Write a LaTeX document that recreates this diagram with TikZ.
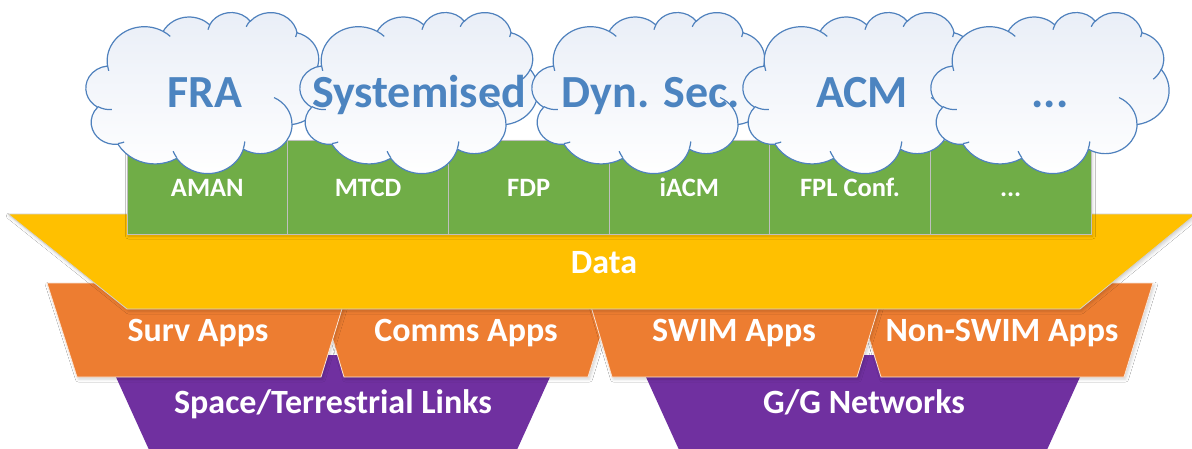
\documentclass[tikz,border=0pt]{standalone}
\usepackage{fontspec}
\setmainfont{Carlito}
\usetikzlibrary{shadows.blur}

\definecolor{cloudblue}{RGB}{79,129,189}
\definecolor{cloudtxt}{RGB}{76,132,192}
\definecolor{cloudtint}{RGB}{233,238,247}
\definecolor{appgreen}{RGB}{112,173,71}
\definecolor{datayellow}{RGB}{255,192,0}
\definecolor{apporange}{RGB}{237,125,49}
\definecolor{netpurple}{RGB}{112,48,160}
\definecolor{edgegray}{RGB}{191,191,191}

% Elliptical arc given as (x radius, y radius, start angle, sweep) with
% angles measured on the ellipse itself, y axis pointing down.
% Radii are in units of 1/432 of the cloud box (\csx, \csy pt per unit).
\newcommand\ccarc[4]{%
  \pgfextra{%
    \pgfmathsetmacro\cTs{atan2((#1)*sin(#3),(#2)*cos(#3))}%
    \pgfmathsetmacro\cTe{atan2((#1)*sin((#3)+(#4)),(#2)*cos((#3)+(#4)))}%
    \pgfmathsetmacro\cTd{\cTe-\cTs}%
    \pgfmathsetmacro\cTd{(#4)>0 ? (\cTd<0 ? \cTd+360 : \cTd) : (\cTd>0 ? \cTd-360 : \cTd)}%
    \pgfmathsetmacro\cRx{(#1)*\csx}%
    \pgfmathsetmacro\cRy{(#2)*\csy}%
    \pgfmathsetmacro\cTs{-1*(\cTs)}%
    \pgfmathsetmacro\cTd{-1*(\cTd)}%
  }%
  arc[start angle=\cTs, delta angle=\cTd, x radius=\cRx pt, y radius=\cRy pt]%
}

% Cloud: name, left edge, top edge, label
\newcommand\officecloud[4]{%
  \pgfmathsetmacro\csx{238/432}%
  \pgfmathsetmacro\csy{161/432}%
  \path[cloudbody] ({#2+39.00*\csx},{#3+143.70*\csy})
    \ccarc{67.53}{91.90}{-190.48748}{123.78053}
    \ccarc{53.33}{72.67}{-144.10238}{89.94523}
    \ccarc{43.65}{59.45}{-145.80792}{99.72302}
    \ccarc{48.57}{65.95}{-130.98607}{117.24173}
    \ccarc{53.33}{72.73}{-78.70888}{109.02692}
    \ccarc{67.75}{92.20}{-46.26725}{130.26900}
    \ccarc{57.85}{78.67}{0.62502}{114.03333}
    \ccarc{67.52}{92.15}{22.45160}{115.17255}
    \ccarc{77.20}{105.43}{66.24263}{75.71102}
    \ccarc{43.60}{59.18}{-274.94208}{146.73557}
    \ccarc{43.45}{59.45}{-246.82850}{152.51885}
    -- cycle;
  \path[cloudline]
    ({#2+46.93*\csx},{#3+261.77*\csy}) \ccarc{43.45}{59.45}{86.74200}{26.42950}
    ({#2+69.28*\csx},{#3+348.99*\csy}) \ccarc{43.60}{59.18}{73.61047}{11.44747}
    ({#2+164.78*\csx},{#3+390.90*\csy}) \ccarc{67.52}{92.15}{137.62415}{14.08110}
    ({#2+288.27*\csx},{#3+347.51*\csy}) \ccarc{67.52}{92.15}{6.45327}{15.99835}
    ({#2+341.29*\csx},{#3+229.54*\csy}) \ccarc{57.85}{78.67}{-70.29235}{70.91737}
    ({#2+417.98*\csx},{#3+153.54*\csy}) \ccarc{53.33}{72.73}{30.31803}{27.75150}
    ({#2+383.24*\csx},{#3+54.26*\csy}) \ccarc{48.57}{65.95}{13.74433}{14.85890}
    ({#2+290.78*\csx},{#3+39.52*\csy}) \ccarc{48.57}{65.95}{-149.18145}{18.19537}
    ({#2+221.41*\csx},{#3+47.20*\csy}) \ccarc{43.65}{59.45}{-163.49427}{17.68635}
    ({#2+140.00*\csx},{#3+51.92*\csy}) \ccarc{67.53}{91.90}{-66.70695}{12.31935}
    ({#2+41.27*\csx},{#3+157.89*\csy}) \ccarc{67.53}{91.90}{157.65435}{11.85817};
  \node[cloudtext] (#1) at ({#2+119},{#3+95}) {#4};
}

\begin{document}
\begin{tikzpicture}[x=1pt, y=-1pt,
  cloudbody/.style={draw=cloudblue, line width=1.2pt, top color=cloudtint, bottom color=white},
  cloudline/.style={draw=cloudblue, line width=1.2pt},
  cloudtext/.style={text=cloudtxt, font=\fontsize{46}{55}\selectfont\bfseries, anchor=base},
  cellbox/.style={fill=appgreen, draw=edgegray, line width=0.8pt, minimum width=160.67pt,
    minimum height=94pt, inner sep=0pt, text=white, text height=18pt, text depth=0pt,
    font=\fontsize{26.5}{31}\selectfont\bfseries},
  layertext/.style={text=white, font=\fontsize{34}{40}\selectfont\bfseries, anchor=base},
  softshadow/.style={blur shadow={shadow xshift=1.5pt, shadow yshift=-2pt,
    shadow blur radius=3pt, shadow opacity=18}},
  orangebox/.style={fill=apporange, draw=white!80!apporange, line width=0.8pt, softshadow},
  purplebox/.style={fill=netpurple}]

\useasboundingbox (0,0) rectangle (1192,448);
\fill[white] (0,0) rectangle (1192,448);

% network layer
\path[purplebox] (106,355) -- (560,355) -- (516,452) -- (150,452) -- cycle;
\path[purplebox] (636,355) -- (1090,355) -- (1046,452) -- (680,452) -- cycle;
\node[layertext] (links) at (333,413) {Space/Terrestrial Links};
\node[layertext] (ggnet) at (864,413) {G/G Networks};

% application layer
\path[orangebox] (316,283) -- (617,283) -- (588,377) -- (344,377) -- cycle;
\path[orangebox] (852,283) -- (1153,283) -- (1124,377) -- (881,377) -- cycle;
\path[orangebox] (47,283) -- (350,283) -- (321,377) -- (77,377) -- cycle;
\path[orangebox] (584,283) -- (886,283) -- (857,377) -- (612,377) -- cycle;
\node[layertext] (surv) at (198,341) {Surv Apps};
\node[layertext] (comms) at (466,341) {Comms Apps};
\node[layertext] (swim) at (734,341) {SWIM Apps};
\node[layertext] (nonswim) at (1002,341) {Non-SWIM Apps};

% data layer
\path[fill=datayellow, draw=edgegray!70, line width=0.8pt, softshadow]
  (8,214) -- (1196,214) -- (1080,309) -- (127,309) -- cycle;
\node[layertext] (data) at (604,273) {Data};

% services
\path[fill=appgreen, softshadow] (127,140) rectangle (1091,234);
\node[cellbox] (aman) at (207.33,187) {AMAN};
\node[cellbox] (mtcd) at (368.00,187) {MTCD};
\node[cellbox] (fdp)  at (528.67,187) {FDP};
\node[cellbox] (iacm) at (689.33,187) {iACM};
\node[cellbox] (fpl)  at (850.00,187) {FPL Conf.};
\node[cellbox] (more) at (1010.67,187) {...};

% concepts
\officecloud{fra}{86}{12}{FRA}
\officecloud{sys}{300}{12}{Systemised}
\officecloud{dyn}{532}{12}{Dyn. Sec.}
\officecloud{acm}{743}{12}{ACM}
\officecloud{etc}{931}{12}{...}

\end{tikzpicture}
\end{document}
